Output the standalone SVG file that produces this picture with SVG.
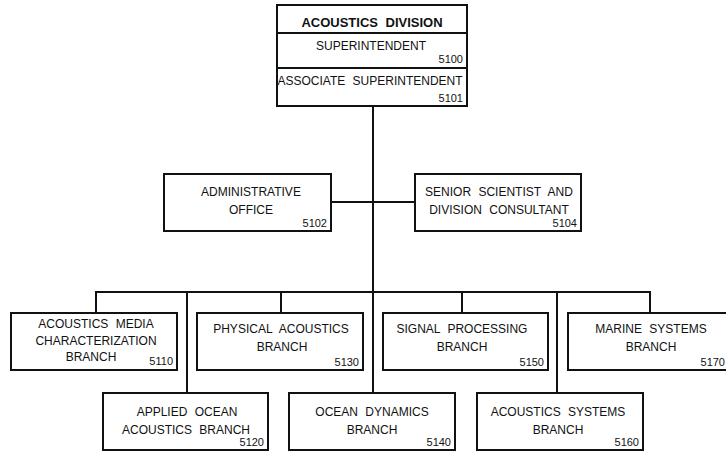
<svg xmlns="http://www.w3.org/2000/svg" width="726" height="452" viewBox="0 0 726 452">
<style>
.box{fill:#fff;stroke:#111;stroke-width:2}
.ln{fill:none;stroke:#111;stroke-width:2}
text{font-family:"Liberation Sans",Arial,sans-serif;font-size:12px;fill:#111;word-spacing:4px}
.c{text-anchor:middle}
.n{text-anchor:end;font-size:11px}
.t{font-weight:bold;font-size:13px}
</style>
<rect width="726" height="452" fill="#fff"/>
<g id="connectors">
<path class="ln" d="M373 106V393"/>
<path class="ln" d="M331 202H415"/>
<path class="ln" d="M96 313V292H650V313"/>
<path class="ln" d="M281 292V313M462 292V313"/>
<path class="ln" d="M187 292V393M557 292V393"/>
</g>
<g id="division">
<rect class="box" x="277" y="5" width="190" height="101"/>
<path class="ln" d="M277 33H467M277 68H467"/>
<text class="c t" x="372" y="27">ACOUSTICS DIVISION</text>
<text class="c" x="371" y="50">SUPERINTENDENT</text>
<text class="n" x="463" y="63">5100</text>
<text class="c" x="370" y="85">ASSOCIATE SUPERINTENDENT</text>
<text class="n" x="463" y="102">5101</text>
</g>
<g id="admin">
<rect class="box" x="164" y="174" width="167" height="57"/>
<text class="c" x="251" y="196">ADMINISTRATIVE</text>
<text class="c" x="251" y="214">OFFICE</text>
<text class="n" x="327" y="227">5102</text>
</g>
<g id="senior">
<rect class="box" x="415" y="174" width="166" height="57"/>
<text class="c" x="499" y="196">SENIOR SCIENTIST AND</text>
<text class="c" x="499" y="214">DIVISION CONSULTANT</text>
<text class="n" x="577" y="227">5104</text>
</g>
<g id="b5110">
<rect class="box" x="11" y="313" width="166" height="57"/>
<text class="c" x="96" y="328">ACOUSTICS MEDIA</text>
<text class="c" x="96" y="345">CHARACTERIZATION</text>
<text class="c" x="91" y="361">BRANCH</text>
<text class="n" x="173" y="365">5110</text>
</g>
<g id="b5130">
<rect class="box" x="197" y="313" width="166" height="57"/>
<text class="c" x="281" y="333">PHYSICAL ACOUSTICS</text>
<text class="c" x="282" y="351">BRANCH</text>
<text class="n" x="359" y="366">5130</text>
</g>
<g id="b5150">
<rect class="box" x="383" y="313" width="165" height="57"/>
<text class="c" x="462" y="333">SIGNAL PROCESSING</text>
<text class="c" x="462" y="351">BRANCH</text>
<text class="n" x="544" y="366">5150</text>
</g>
<g id="b5170">
<rect class="box" x="568" y="313" width="170" height="57"/>
<text class="c" x="651" y="333">MARINE SYSTEMS</text>
<text class="c" x="651" y="351">BRANCH</text>
<text class="n" x="725" y="366">5170</text>
</g>
<g id="b5120">
<rect class="box" x="103" y="393" width="165" height="57"/>
<text class="c" x="187" y="416">APPLIED OCEAN</text>
<text class="c" x="186" y="434">ACOUSTICS BRANCH</text>
<text class="n" x="264" y="446">5120</text>
</g>
<g id="b5140">
<rect class="box" x="289" y="393" width="166" height="57"/>
<text class="c" x="372" y="416">OCEAN DYNAMICS</text>
<text class="c" x="372" y="434">BRANCH</text>
<text class="n" x="451" y="446">5140</text>
</g>
<g id="b5160">
<rect class="box" x="477" y="393" width="166" height="57"/>
<text class="c" x="558" y="416">ACOUSTICS SYSTEMS</text>
<text class="c" x="558" y="434">BRANCH</text>
<text class="n" x="639" y="446">5160</text>
</g>
</svg>
